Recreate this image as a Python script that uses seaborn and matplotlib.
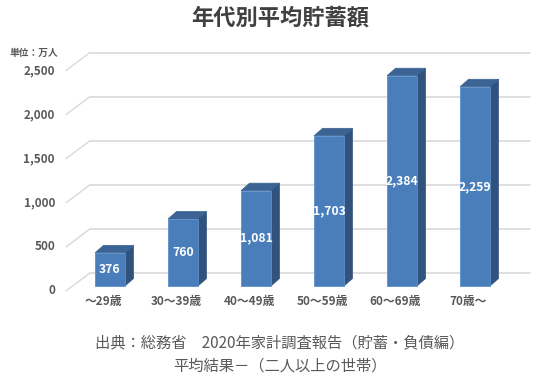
import numpy as np
import pandas as pd
import matplotlib
matplotlib.use("Agg")
import matplotlib.pyplot as plt
from matplotlib.patches import Polygon
import seaborn as sns

# data
AGE_GROUPS = ["～29歳", "30～39歳", "40～49歳", "50～59歳", "60～69歳", "70歳～"]
SAVINGS = [376, 760, 1081, 1703, 2384, 2259]
Y_TICKS = [0, 500, 1000, 1500, 2000, 2500]

TITLE = "年代別平均貯蓄額"
UNIT = "単位：万人"
SOURCE = ["出典：総務省　2020年家計調査報告（貯蓄・負債編）",
          "平均結果－（二人以上の世帯）"]

FRONT = "#4a7ebb"
SIDE = "#30527d"
TOP = "#3b6494"
GRID = "#d9d9d9"
TEXT = "#595959"

sns.set_theme(style="white")
plt.rcParams["font.family"] = ["Noto Sans CJK JP", "DejaVu Sans"]

df = pd.DataFrame({"age": AGE_GROUPS, "savings": SAVINGS})

fig = plt.figure(figsize=(5.6, 3.8), dpi=100)
W, H = 560, 380
ax = fig.add_axes([66 / W, 94 / H, (530 - 66) / W, 220.5 / H])

sns.barplot(data=df, x="age", y="savings", color=FRONT, width=0.41,
            saturation=1, edgecolor="#5b8fcc", linewidth=0.6, ax=ax, zorder=3)

xmin, xmax = -0.603, 5.753
ax.set_xlim(xmin, xmax)
ax.set_ylim(0, 2500)

# pixel -> data unit conversions
px_x = 1 / 73.0
px_y = 2500 / 220.5

# 3D-ish floor/back-wall gridlines
xb = xmin + 24 * px_x
for v in Y_TICKS:
    ax.plot([xmin, xb], [v - 5 * px_y, v + 13 * px_y], color=GRID, lw=1,
            clip_on=False, zorder=1)
    ax.plot([xb, xmax], [v + 13 * px_y, v + 13 * px_y], color=GRID, lw=1.2,
            clip_on=False, zorder=1)
    ax.text(xmin - 11 * px_x, v - 5 * px_y, f"{v:,}", ha="right", va="center",
            fontsize=8.5, fontweight="bold", color=TEXT)

# side and top faces of each bar
dx, dy = 8.5 * px_x, 7.5 * px_y
for p in ax.patches:
    x0, w, h = p.get_x(), p.get_width(), p.get_height()
    x1 = x0 + w
    side = Polygon([(x1, 0), (x1 + dx, dy), (x1 + dx, h + dy), (x1, h)],
                   closed=True, facecolor=SIDE, edgecolor=SIDE, lw=0.5,
                   zorder=2.9, clip_on=False)
    top = Polygon([(x0, h), (x0 + dx, h + dy), (x1 + dx, h + dy), (x1, h)],
                  closed=True, facecolor=TOP, edgecolor=TOP, lw=0.5,
                  zorder=2.9, clip_on=False)
    ax.add_patch(side)
    ax.add_patch(top)
    p.set_clip_on(False)

for i, v in enumerate(SAVINGS):
    ax.text(i, v / 2, f"{v:,}", ha="center", va="center", color="white",
            fontsize=8.8, fontweight="bold", zorder=5)
    ax.text(i - 7 * px_x, -15 * px_y, AGE_GROUPS[i], ha="center", va="center",
            fontsize=8.5, fontweight="bold", color=TEXT)

ax.set_xticks([])
ax.set_yticks([])
ax.set_xlabel("")
ax.set_ylabel("")
sns.despine(ax=ax, left=True, bottom=True)
ax.patch.set_alpha(0)

fig.text(0.5, 1 - 18 / H, TITLE, ha="center", va="center", fontsize=16,
         fontweight="bold", color="#404040")
fig.text(10 / W, 1 - 53 / H, UNIT, ha="left", va="center", fontsize=7,
         fontweight="bold", color=TEXT)
fig.text(0.5, 1 - 343 / H, SOURCE[0], ha="center", va="center", fontsize=11,
         color=TEXT)
fig.text(0.5, 1 - 366 / H, SOURCE[1], ha="center", va="center", fontsize=11,
         color=TEXT)

fig.savefig("out.png", dpi=100)
